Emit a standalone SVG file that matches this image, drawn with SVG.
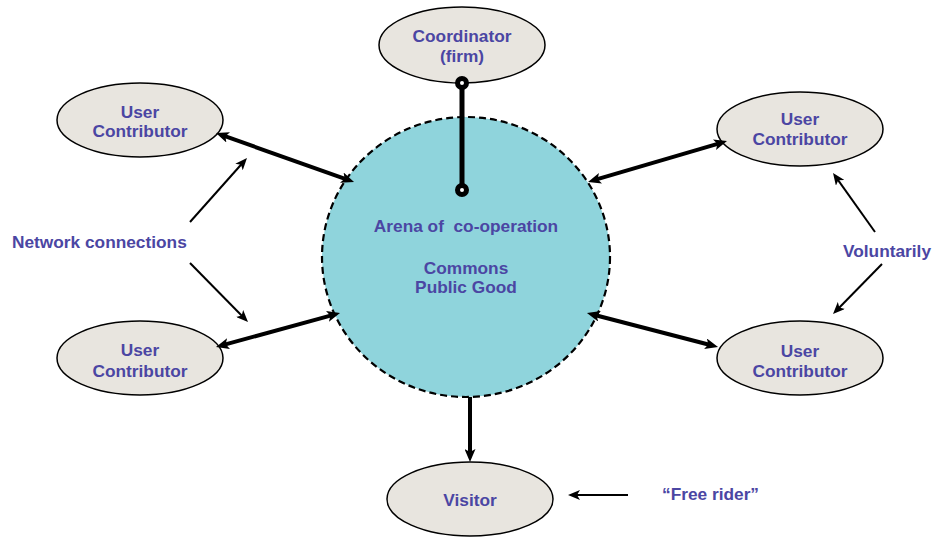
<svg xmlns="http://www.w3.org/2000/svg" width="932" height="537" viewBox="0 0 932 537">
<style>
.node{fill:#e8e5df;stroke:#000;stroke-width:1.5}
.arena{fill:#8fd4dc;stroke:#000;stroke-width:2.2;stroke-dasharray:7 4}
.t{font-family:"Liberation Sans",Arial,sans-serif;font-weight:bold;font-size:17.3px;fill:#4b46a3;white-space:pre}
.c{text-anchor:middle}
.thick{stroke:#000;stroke-width:4;fill:none}
.thin{stroke:#000;stroke-width:2;fill:none}
</style>
<defs>
<marker id="ah" viewBox="0 0 13 11" refX="5" refY="5.5" markerWidth="13" markerHeight="11" markerUnits="userSpaceOnUse" orient="auto-start-reverse">
<path d="M0,0 L13,5.5 L0,11 L3,5.5 z" fill="#000"/>
</marker>
<marker id="as" viewBox="0 0 12 10" refX="6" refY="5" markerWidth="12" markerHeight="10" markerUnits="userSpaceOnUse" orient="auto">
<path d="M0,0 L12,5 L0,10 L3,5 z" fill="#000"/>
</marker>
<marker id="dot" viewBox="0 0 16 16" refX="8" refY="8" markerWidth="16" markerHeight="16" markerUnits="userSpaceOnUse">
<circle cx="8" cy="8" r="4.5" fill="#fff" stroke="#000" stroke-width="5"/>
</marker>
</defs>

<g id="arena">
<ellipse class="arena" cx="466" cy="257" rx="144" ry="140"/>
<text class="t c" x="466" y="232">Arena of  co-operation</text>
<text class="t c" x="466" y="274">Commons</text>
<text class="t c" x="466" y="293">Public Good</text>
</g>

<g id="coordinator">
<ellipse class="node" cx="462" cy="45" rx="83" ry="38"/>
<text class="t c" x="462" y="42">Coordinator</text>
<text class="t c" x="462" y="62">(firm)</text>
</g>

<g id="user-tl">
<ellipse class="node" cx="140" cy="120" rx="83" ry="37"/>
<text class="t c" x="140" y="118">User</text>
<text class="t c" x="140" y="137">Contributor</text>
</g>

<g id="user-bl">
<ellipse class="node" cx="140" cy="358" rx="83" ry="37"/>
<text class="t c" x="140" y="356">User</text>
<text class="t c" x="140" y="377">Contributor</text>
</g>

<g id="user-tr">
<ellipse class="node" cx="800" cy="129" rx="83" ry="37"/>
<text class="t c" x="800" y="125">User</text>
<text class="t c" x="800" y="145">Contributor</text>
</g>

<g id="user-br">
<ellipse class="node" cx="800" cy="358" rx="83" ry="37"/>
<text class="t c" x="800" y="357">User</text>
<text class="t c" x="800" y="377">Contributor</text>
</g>

<g id="visitor">
<ellipse class="node" cx="470" cy="499" rx="83" ry="37"/>
<text class="t c" x="470" y="506">Visitor</text>
</g>

<g id="labels">
<text class="t" x="12" y="248">Network connections</text>
<text class="t" x="843" y="257">Voluntarily</text>
<text class="t" x="662" y="500">“Free rider”</text>
</g>

<g id="connectors">
<line x1="462" y1="83" x2="462" y2="190" stroke="#000" stroke-width="5" marker-start="url(#dot)" marker-end="url(#dot)"/>
<line class="thick" x1="223.5" y1="135.7" x2="346.5" y2="179.3" marker-start="url(#ah)" marker-end="url(#ah)"/>
<line class="thick" x1="223.7" y1="344.9" x2="332.3" y2="315.1" marker-start="url(#ah)" marker-end="url(#ah)"/>
<line class="thick" x1="595.7" y1="179.7" x2="719.3" y2="143.3" marker-start="url(#ah)" marker-end="url(#ah)"/>
<line class="thick" x1="594.7" y1="315" x2="710.3" y2="345" marker-start="url(#ah)" marker-end="url(#ah)"/>
<line class="thick" x1="470" y1="397" x2="470" y2="454" marker-end="url(#ah)"/>
<line class="thin" x1="190" y1="222" x2="243" y2="162.5" marker-end="url(#as)"/>
<line class="thin" x1="190" y1="263" x2="243.8" y2="317.7" marker-end="url(#as)"/>
<line class="thin" x1="875" y1="232" x2="836.5" y2="177.9" marker-end="url(#as)"/>
<line class="thin" x1="882" y1="264" x2="837.2" y2="309.7" marker-end="url(#as)"/>
<line class="thin" x1="628" y1="495" x2="574" y2="495" stroke-width="3" marker-end="url(#as)"/>
</g>
</svg>
